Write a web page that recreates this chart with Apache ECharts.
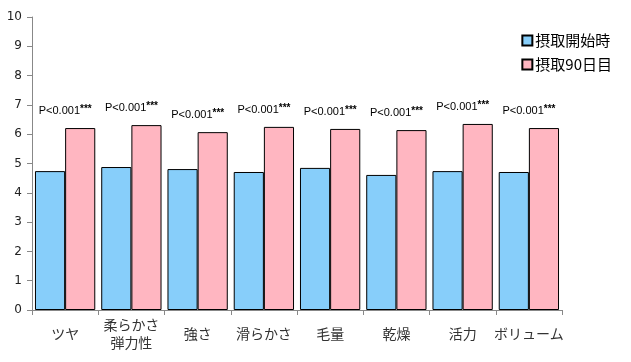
<!DOCTYPE html>
<html><head><meta charset="utf-8">
<script src="https://cdn.jsdelivr.net/npm/echarts@6/dist/echarts.min.js"></script>
<style>html,body{margin:0;padding:0;background:#fff}#c{width:631px;height:362px}</style>
</head><body><div id="c"></div>
<script>
const categories = ['ツヤ', '柔らかさ\n弾力性', '強さ', '滑らかさ', '毛量', '乾燥', '活力', 'ボリューム'];
const seriesNames = ['摂取開始時', '摂取90日目'];
const startValues = [4.74, 4.88, 4.81, 4.71, 4.85, 4.61, 4.74, 4.71];
const day90Values = [6.21, 6.31, 6.07, 6.25, 6.18, 6.14, 6.35, 6.21];
const pLabels = ['P<0.001', 'P<0.001', 'P<0.001', 'P<0.001', 'P<0.001', 'P<0.001', 'P<0.001', 'P<0.001'];
const yTicks = [0, 10, 1];

const font = "'DejaVu Sans', 'Noto Sans CJK JP', sans-serif";
const chart = echarts.init(document.getElementById('c'));
chart.setOption({
  animation: false,
  textStyle: { fontFamily: font },
  grid: { left: 32, right: 69, top: 17, bottom: 52, containLabel: false },
  legend: {
    orient: 'vertical', right: 14, top: 28, itemWidth: 10, itemHeight: 10, itemGap: 9,
    icon: 'rect',
    textStyle: { fontSize: 15, color: '#000', fontFamily: "'Noto Sans CJK JP', sans-serif", padding: [0, 0, 0, -2] },
    data: seriesNames
  },
  xAxis: {
    type: 'category', data: categories,
    axisLine: { lineStyle: { color: '#888' } },
    axisTick: { show: true, alignWithLabel: false, length: 5, lineStyle: { color: '#888' } },
    axisLabel: { interval: 0, color: '#333', fontSize: 14, margin: 24, lineHeight: 18, verticalAlign: 'middle', fontFamily: "'Noto Sans CJK JP', sans-serif" }
  },
  yAxis: {
    type: 'value', min: yTicks[0], max: yTicks[1], interval: yTicks[2],
    splitLine: { show: false },
    axisLine: { show: true, lineStyle: { color: '#888' } },
    axisTick: { show: true, length: 5, lineStyle: { color: '#888' } },
    axisLabel: { color: '#222', fontSize: 12, margin: 10 }
  },
  series: [
    {
      name: seriesNames[0], type: 'bar', data: startValues,
      barGap: '0%', barCategoryGap: '9%',
      itemStyle: { color: '#87CEFA', borderColor: '#000', borderWidth: 1 }
    },
    {
      name: seriesNames[1], type: 'bar', data: day90Values,
      barGap: '0%', barCategoryGap: '9%',
      itemStyle: { color: '#FFB6C1', borderColor: '#000', borderWidth: 1 },
      label: {
        show: true, position: 'top', offset: [-15, -5],
        formatter: (p) => '{a|' + pLabels[p.dataIndex] + '}{b|***}',
        rich: {
          a: { fontSize: 11, color: '#000', fontFamily: "'Liberation Sans', sans-serif" },
          b: { fontSize: 10, color: '#000', fontWeight: 'bold', verticalAlign: 'top', padding: [0, 0, 4, 0], fontFamily: "'Liberation Sans', sans-serif" }
        }
      }
    }
  ]
});
</script></body></html>
